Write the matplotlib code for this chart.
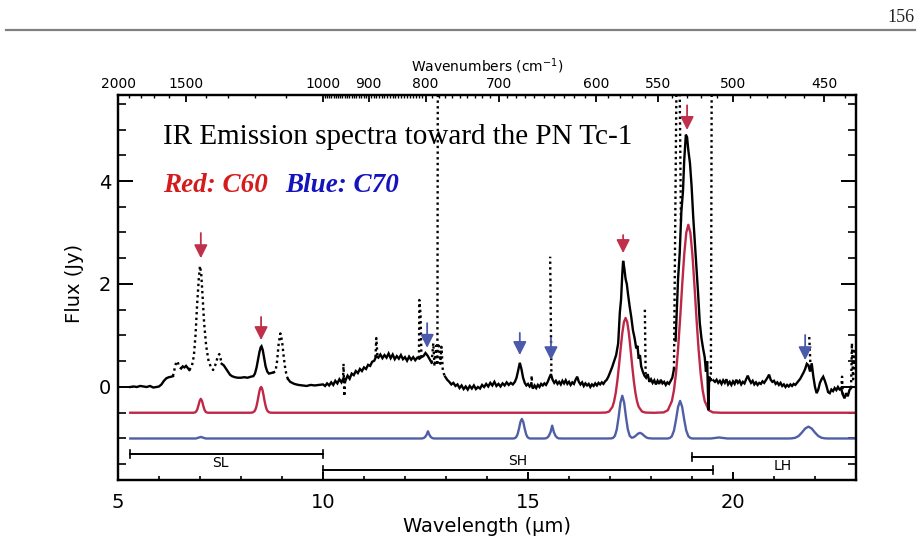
import numpy as np
import matplotlib
matplotlib.use("Agg")
import matplotlib.pyplot as plt
from matplotlib.lines import Line2D

nan = np.nan

# ---------------- observed spectrum (Tc-1) ----------------
# solid (good data) segments
seg_a_wave = [5.30, 5.38, 5.46, 5.54, 5.62, 5.70, 5.78, 5.86, 5.94, 6.00,
              6.06, 6.12, 6.18, 6.24, 6.30, 6.34]
seg_a_flux = [0.00, 0.01, 0.00, 0.02, 0.01, 0.00, 0.02, -0.01, 0.00, 0.01,
              0.05, 0.12, 0.17, 0.19, 0.20, 0.21]

seg_b_wave = [6.54, 6.58, 6.62, 6.66, 6.70, 6.74]
seg_b_flux = [0.36, 0.40, 0.38, 0.41, 0.37, 0.33]

seg_d_wave = [7.53, 7.58, 7.63, 7.68, 7.73, 7.78, 7.85, 7.92, 8.00, 8.08,
              8.16, 8.24, 8.30, 8.34, 8.38, 8.42, 8.45, 8.48, 8.50, 8.53,
              8.56, 8.60, 8.64, 8.68, 8.73, 8.78]
seg_d_flux = [0.45, 0.42, 0.36, 0.30, 0.24, 0.21, 0.19, 0.18, 0.18, 0.19,
              0.18, 0.20, 0.21, 0.26, 0.38, 0.55, 0.68, 0.77, 0.79, 0.72,
              0.58, 0.40, 0.30, 0.26, 0.27, 0.28]

seg_f_wave = [9.15, 9.20, 9.30, 9.40, 9.50, 9.60, 9.70, 9.80, 9.90, 10.00,
              10.05, 10.10, 10.15, 10.20, 10.25, 10.30, 10.35, 10.40, 10.45, 10.50,
              10.55, 10.60, 10.65, 10.70, 10.75, 10.80, 10.85, 10.90, 10.95, 11.00,
              11.05, 11.10, 11.15, 11.20, 11.25, 11.30, 11.35, 11.40, 11.45, 11.50,
              11.55, 11.60, 11.65, 11.70, 11.75, 11.80, 11.85, 11.90, 11.95, 12.00,
              12.05, 12.10, 12.15, 12.20, 12.25, 12.30, 12.35, 12.40, 12.45, 12.50,
              12.55, 12.60, 12.65]
seg_f_flux = [0.15, 0.10, 0.06, 0.04, 0.03, 0.02, 0.04, 0.03, 0.04, 0.05,
              0.02, 0.07, 0.03, 0.09, 0.04, 0.12, 0.07, 0.15, 0.09, 0.17,
              0.13, 0.22, 0.16, 0.26, 0.23, 0.31, 0.27, 0.35, 0.31, 0.38,
              0.35, 0.43, 0.41, 0.49, 0.51, 0.60, 0.57, 0.63, 0.56, 0.62,
              0.57, 0.65, 0.56, 0.63, 0.54, 0.60, 0.55, 0.62, 0.54, 0.58,
              0.51, 0.59, 0.53, 0.58, 0.52, 0.57, 0.55, 0.58, 0.60, 0.66,
              0.61, 0.54, 0.47]

seg_i_wave = [12.98, 13.03, 13.08, 13.13, 13.18, 13.23, 13.28, 13.33, 13.38, 13.43,
              13.48, 13.53, 13.58, 13.63, 13.68, 13.73, 13.78, 13.83, 13.88, 13.93,
              13.98, 14.03, 14.08, 14.13, 14.18, 14.23, 14.28, 14.33, 14.38, 14.43,
              14.48, 14.53, 14.58, 14.63, 14.68, 14.72, 14.76, 14.80, 14.84, 14.88,
              14.92, 14.96, 15.00, 15.04, 15.08, 15.12, 15.16, 15.20, 15.24, 15.28,
              15.32, 15.36, 15.40, 15.44, 15.48, 15.52, 15.56, 15.60, 15.64, 15.68,
              15.72, 15.76, 15.80, 15.84, 15.88, 15.92, 15.96, 16.00, 16.04, 16.08,
              16.12, 16.16, 16.20, 16.24, 16.28, 16.32, 16.36, 16.40, 16.44, 16.48,
              16.52, 16.56, 16.60, 16.64, 16.68, 16.72, 16.76, 16.80, 16.84, 16.88,
              16.92, 16.96, 17.00, 17.05, 17.10, 17.15, 17.20, 17.24, 17.27, 17.30,
              17.32, 17.35, 17.38, 17.41, 17.44, 17.48, 17.52, 17.56, 17.60, 17.64,
              17.67, 17.70, 17.73, 17.76, 17.80, 17.84, 17.88, 17.92, 17.96, 18.00,
              18.04, 18.08, 18.12, 18.16, 18.20, 18.24, 18.28, 18.32, 18.36, 18.40,
              18.44, 18.48, 18.52, 18.56]
seg_i_flux = [0.20, 0.14, 0.10, 0.05, 0.08, 0.02, 0.05, -0.02, 0.03, -0.04,
              0.01, -0.05, 0.02, -0.03, 0.03, -0.04, 0.00, -0.03, 0.04, 0.00,
              0.06, 0.01, 0.08, 0.03, 0.10, 0.02, 0.06, 0.01, 0.07, 0.03,
              0.09, 0.04, 0.08, 0.05, 0.10, 0.18, 0.32, 0.47, 0.35, 0.18,
              0.08, 0.03, 0.06, 0.01, 0.05, -0.03, 0.03, -0.02, 0.04, 0.00,
              0.06, 0.03, 0.07, 0.04, 0.10, 0.18, 0.25, 0.14, 0.08, 0.12,
              0.06, 0.10, 0.05, 0.12, 0.07, 0.13, 0.06, 0.10, 0.04, 0.09,
              0.06, 0.14, 0.20, 0.10, 0.05, 0.09, 0.02, 0.07, 0.03, 0.06,
              0.00, 0.05, 0.02, 0.07, 0.03, 0.08, 0.05, 0.09, 0.06, 0.11,
              0.14, 0.20, 0.28, 0.38, 0.50, 0.62, 0.85, 1.45, 1.70, 2.20,
              2.45, 2.30, 2.10, 2.00, 1.80, 1.56, 1.35, 1.10, 0.95, 0.75,
              0.80, 0.55, 0.62, 0.40, 0.30, 0.22, 0.18, 0.25, 0.10, 0.15,
              0.08, 0.13, 0.05, 0.12, 0.06, 0.14, 0.07, 0.10, 0.04, 0.09,
              0.06, 0.12, 0.18, 0.35]

seg_j_wave = [18.60, 18.63, 18.66, 18.70, 18.74, 18.78, 18.81, 18.85, 18.88, 18.91,
              18.95, 18.99, 19.03, 19.07, 19.11, 19.15, 19.19, 19.23, 19.27, 19.31,
              19.34, 19.37, 19.40, 19.42, 19.45]
seg_j_flux = [0.90, 1.50, 2.10, 2.60, 3.40, 3.80, 4.40, 4.90, 4.85, 4.60,
              4.35, 3.90, 3.30, 2.80, 2.33, 1.80, 1.24, 0.95, 0.75, 0.58,
              0.30, 0.50, -0.45, 0.20, 0.13]

seg_k_wave = [19.52, 19.56, 19.60, 19.64, 19.68, 19.72, 19.76, 19.80, 19.84, 19.88,
              19.92, 19.96, 20.00, 20.04, 20.08, 20.12, 20.16, 20.20, 20.24, 20.28,
              20.32, 20.36, 20.40, 20.44, 20.48, 20.52, 20.56, 20.60, 20.64, 20.68,
              20.72, 20.76, 20.80, 20.84, 20.88, 20.92, 20.96, 21.00, 21.04, 21.08,
              21.12, 21.16, 21.20, 21.24, 21.28, 21.32, 21.36, 21.40, 21.44, 21.48,
              21.52, 21.56, 21.60, 21.64, 21.68, 21.72, 21.76, 21.80, 21.84, 21.88,
              21.92, 21.96, 22.00, 22.04, 22.08, 22.12, 22.16, 22.20, 22.24, 22.28,
              22.32, 22.36, 22.40, 22.44, 22.48, 22.52, 22.56, 22.60, 22.64, 22.68,
              22.72, 22.76, 22.80, 22.84, 22.88]
seg_k_flux = [0.13, 0.10, 0.14, 0.08, 0.12, 0.06, 0.13, 0.08, 0.15, 0.05,
              0.10, 0.04, 0.11, 0.06, 0.14, 0.08, 0.12, 0.05, 0.10, 0.07,
              0.15, 0.22, 0.14, 0.08, 0.12, 0.05, 0.09, 0.04, 0.08, 0.06,
              0.11, 0.08, 0.13, 0.18, 0.24, 0.14, 0.10, 0.12, 0.06, 0.09,
              0.04, 0.08, 0.02, 0.05, 0.00, 0.04, 0.01, 0.05, 0.02, 0.06,
              0.04, 0.08, 0.12, 0.16, 0.22, 0.28, 0.35, 0.45, 0.42, 0.30,
              0.46, 0.20, 0.00, -0.12, -0.05, 0.08, 0.15, 0.20, 0.12, 0.02,
              -0.10, -0.12, -0.05, -0.08, -0.02, -0.06, 0.00, -0.05, -0.04, -0.15,
              -0.22, -0.12, -0.18, -0.06, -0.02]

# dotted (flagged data) segments, NaN separated
dot_wave = [6.34, 6.38, 6.42, 6.45, 6.49, 6.54, nan,
            6.74, 6.80, 6.85, 6.89, 6.93, 6.97, 7.00, 7.03, 7.06, 7.10, 7.15, 7.21,
            7.27, 7.32, 7.37, 7.42, 7.47, 7.50, 7.53, nan,
            8.78, 8.84, 8.88, 8.92, 8.96, 9.00, 9.04, 9.08, 9.12, 9.15, nan,
            10.49, 10.50, 10.52, 10.54, nan,
            11.28, 11.30, 11.33, nan,
            12.34, 12.35, 12.38, 12.40, nan,
            12.65, 12.69, 12.72, 12.76, 12.79, 12.80, nan,
            12.81, 12.83, 12.86, 12.89, 12.92, 12.95, 12.98, nan,
            15.08, 15.09, 15.10, nan,
            15.57, 15.54, nan,
            17.85, 17.87, nan,
            18.56, 18.62, nan,
            18.70, 18.73, nan,
            19.46, 19.48, nan,
            21.86, 21.89, nan,
            22.64, 22.66, 22.68, nan,
            22.88, 22.90, 22.93, 22.96, 23.00]
dot_flux = [0.21, 0.35, 0.48, 0.50, 0.40, 0.36, nan,
            0.33, 0.40, 0.60, 1.00, 1.60, 2.10, 2.35, 2.20, 1.80, 1.25, 0.80, 0.50,
            0.38, 0.33, 0.42, 0.55, 0.64, 0.56, 0.45, nan,
            0.28, 0.30, 0.50, 0.85, 1.04, 0.90, 0.60, 0.35, 0.20, 0.15, nan,
            0.12, 0.45, -0.18, 0.14, nan,
            0.58, 0.95, 0.58, nan,
            0.56, 1.69, 1.40, 0.58, nan,
            0.47, 0.85, 0.40, 0.80, 0.42, 5.80, nan,
            0.80, 0.80, 0.45, 0.78, 0.35, 0.25, 0.20, nan,
            0.05, 0.22, 0.05, nan,
            0.30, 2.53, nan,
            1.50, 0.20, nan,
            0.35, 5.80, nan,
            5.80, 3.20, nan,
            0.13, 5.80, nan,
            0.97, 0.40, nan,
            -0.04, 0.20, -0.15, nan,
            -0.02, 0.85, 0.15, 0.75, 0.30]

# ---------------- model spectra ----------------
c60_wave = [5.30, 6.84, 6.87, 6.90, 6.93, 6.96, 6.99, 7.02, 7.05, 7.08, 7.11, 7.14, 7.17, 7.20,
            8.17, 8.25, 8.29, 8.33, 8.35, 8.37, 8.39, 8.41, 8.43, 8.45, 8.47, 8.49,
            8.51, 8.53, 8.55, 8.57, 8.59, 8.61, 8.63, 8.65, 8.69, 8.73, 8.81,
            16.74, 16.90, 16.98, 17.06, 17.10, 17.14, 17.18, 17.22, 17.26, 17.30, 17.34, 17.38,
            17.42, 17.46, 17.50, 17.54, 17.58, 17.62, 17.66, 17.70, 17.78, 17.86, 18.02,
            18.11, 18.31, 18.41, 18.51, 18.56, 18.61, 18.66, 18.71, 18.76, 18.81, 18.86, 18.91,
            18.96, 19.01, 19.06, 19.11, 19.16, 19.21, 19.26, 19.31, 19.41, 19.51, 19.71, 23.00]
c60_flux = [-0.50, -0.50, -0.496, -0.483, -0.443, -0.365, -0.273, -0.23, -0.273, -0.365, -0.443, -0.483, -0.496, -0.50,
            -0.50, -0.499, -0.493, -0.469, -0.44, -0.395, -0.331, -0.25, -0.161, -0.08, -0.021, 0.00,
            -0.021, -0.08, -0.161, -0.25, -0.331, -0.395, -0.44, -0.469, -0.493, -0.499, -0.50,
            -0.50, -0.496, -0.476, -0.385, -0.280, -0.113, 0.123, 0.42, 0.746, 1.047, 1.262, 1.34,
            1.262, 1.047, 0.746, 0.42, 0.123, -0.113, -0.280, -0.385, -0.476, -0.496, -0.50,
            -0.50, -0.493, -0.452, -0.272, -0.063, 0.267, 0.736, 1.325, 1.972, 2.570, 2.995, 3.15,
            2.995, 2.570, 1.972, 1.325, 0.736, 0.267, -0.063, -0.272, -0.452, -0.493, -0.50, -0.50]

c70_wave = [5.30, 6.90, 6.96, 7.02, 7.08, 7.14,
            12.35, 12.42, 12.455, 12.49, 12.525, 12.56, 12.595, 12.63, 12.665, 12.70, 12.77,
            14.64, 14.675, 14.71, 14.745, 14.78, 14.815, 14.85, 14.885, 14.92, 14.955, 14.99, 15.025, 15.06,
            15.35, 15.43, 15.47, 15.51, 15.55, 15.59, 15.63, 15.67, 15.71, 15.75, 15.83,
            16.94, 17.03, 17.075, 17.12, 17.165, 17.21, 17.255, 17.30, 17.345, 17.39, 17.435,
            17.48, 17.53, 17.58, 17.63, 17.68, 17.73, 17.78, 17.83, 17.88, 17.93, 18.03,
            18.41, 18.46, 18.51, 18.56, 18.61, 18.66, 18.71, 18.76, 18.81, 18.86, 18.91, 18.96, 19.01,
            19.46, 19.56, 19.66, 19.76, 19.86,
            21.36, 21.44, 21.52, 21.60, 21.68, 21.76, 21.84, 21.92, 22.00, 22.08, 22.16, 22.24, 22.32, 23.00]
c70_flux = [-1.00, -1.00, -0.985, -0.97, -0.985, -1.00,
            -1.00, -0.999, -0.991, -0.971, -0.93, -0.86, -0.93, -0.971, -0.991, -0.999, -1.00,
            -1.00, -0.995, -0.976, -0.92, -0.81, -0.68, -0.62, -0.68, -0.81, -0.92, -0.976, -0.995, -1.00,
            -1.00, -0.998, -0.984, -0.947, -0.875, -0.75, -0.875, -0.947, -0.984, -0.998, -1.00,
            -1.00, -0.998, -0.989, -0.948, -0.825, -0.585, -0.302, -0.17, -0.302, -0.585, -0.825,
            -0.948, -0.985, -0.975, -0.945, -0.908, -0.89, -0.908, -0.945, -0.977, -0.993, -1.00,
            -1.00, -0.99, -0.954, -0.847, -0.635, -0.386, -0.27, -0.386, -0.635, -0.847, -0.954, -0.99, -1.00,
            -1.00, -0.99, -0.98, -0.99, -1.00,
            -1.00, -0.997, -0.986, -0.952, -0.885, -0.807, -0.77, -0.807, -0.885, -0.952, -0.986, -0.997, -1.00, -1.00]

# ---------------- band identifications (arrows) ----------------
c60_arrow_wave = [7.02, 8.49, 17.32, 18.88]
c60_arrow_top = [2.99, 1.36, 2.95, 5.47]
c60_arrow_tip = [2.50, 0.91, 2.60, 4.99]
c70_arrow_wave = [12.54, 14.80, 15.56, 21.76]
c70_arrow_top = [1.24, 1.05, 0.95, 1.01]
c70_arrow_tip = [0.76, 0.62, 0.52, 0.52]

# ---------------- Spitzer IRS modules ----------------
module_names = ["SL", "SH", "LH"]
module_start = [5.3, 10.0, 19.0]
module_end = [10.0, 19.5, 23.2]
module_level = [-1.30, -1.61, -1.36]
module_label_wave = [7.49, 14.76, 21.22]
module_label_flux = [-1.48, -1.44, -1.53]

# ---------------- axes ticks ----------------
x_major = [5, 10, 15, 20]
y_major = [0, 2, 4]
wn_major = [2000, 1500, 1000, 900, 800, 700, 600, 550, 500, 450]

# ---------------- colours ----------------
RED_LINE = "#be2846"
BLUE_LINE = "#505fa5"
RED_ARROW = "#c0304a"
BLUE_ARROW = "#4b5aaa"

fig = plt.figure(figsize=(9.21, 5.49), dpi=100)
fig.patch.set_facecolor("white")
ax = fig.add_axes([118 / 921, 1 - 480 / 549, 738 / 921, 385 / 549])
ax.set_xlim(5, 23)
ax.set_ylim(-1.806, 5.67)

nanarr = [nan]
solid_wave = (seg_a_wave + nanarr + seg_b_wave + nanarr + seg_d_wave + nanarr +
              seg_f_wave + nanarr + seg_i_wave + nanarr + seg_j_wave + nanarr + seg_k_wave)
solid_flux = (seg_a_flux + nanarr + seg_b_flux + nanarr + seg_d_flux + nanarr +
              seg_f_flux + nanarr + seg_i_flux + nanarr + seg_j_flux + nanarr + seg_k_flux)

ax.plot(c60_wave, c60_flux, color=RED_LINE, lw=1.7, zorder=2)
ax.plot(c70_wave, c70_flux, color=BLUE_LINE, lw=1.7, zorder=2)
ax.plot(solid_wave, solid_flux, color="black", lw=1.7, zorder=3, solid_joinstyle="miter")
ax.plot(dot_wave, dot_flux, color="black", lw=1.7, ls=(0, (1, 1.4)), zorder=3)

for xw, yt, yb in zip(c60_arrow_wave, c60_arrow_top, c60_arrow_tip):
    ax.annotate("", xy=(xw, yb), xytext=(xw, yt),
                arrowprops=dict(arrowstyle="-|>", color=RED_ARROW, lw=1.3,
                                mutation_scale=20, shrinkA=0, shrinkB=0), zorder=4)
for xw, yt, yb in zip(c70_arrow_wave, c70_arrow_top, c70_arrow_tip):
    ax.annotate("", xy=(xw, yb), xytext=(xw, yt),
                arrowprops=dict(arrowstyle="-|>", color=BLUE_ARROW, lw=1.3,
                                mutation_scale=20, shrinkA=0, shrinkB=0), zorder=4)

for name, x0, x1, lev, lw_, lf in zip(module_names, module_start, module_end, module_level,
                                      module_label_wave, module_label_flux):
    ax.plot([x0, x1], [lev, lev], color="black", lw=1.4, clip_on=True)
    ax.plot([x0, x0], [lev - 0.07, lev + 0.07], color="black", lw=1.2)
    if x1 < 23:
        ax.plot([x1, x1], [lev - 0.07, lev + 0.07], color="black", lw=1.2)
    ax.text(lw_, lf, name, ha="center", va="center", fontsize=10, family="DejaVu Sans")

# bottom / left axes
ax.set_xticks(x_major)
ax.set_xticklabels([str(v) for v in x_major])
ax.set_xticks(np.arange(5, 24, 1), minor=True)
ax.set_yticks(y_major)
ax.set_yticklabels([str(v) for v in y_major])
ax.set_yticks(np.arange(-1.5, 5.6, 0.5), minor=True)
ax.tick_params(axis="x", which="major", direction="in", length=5.5, width=1.4,
               labelsize=14, pad=9, top=False)
ax.tick_params(axis="x", which="minor", direction="in", length=3, width=1.2, top=False)
ax.tick_params(axis="y", which="major", direction="in", length=10.5, width=1.4,
               labelsize=14, pad=5, left=True, right=True)
ax.tick_params(axis="y", which="minor", direction="in", length=5.5, width=1.2,
               left=True, right=True)
for sp in ax.spines.values():
    sp.set_linewidth(1.6)

# top axis: wavenumbers
ax_top = ax.twiny()
ax_top.set_xlim(5, 23)
ax_top.set_xticks([10000.0 / k for k in wn_major])
ax_top.set_xticklabels([str(k) for k in wn_major])
wn_minor = (list(range(1900, 1500, -100)) + list(range(1400, 1000, -100)) +
            list(range(995, 800, -5)) + list(range(790, 430, -10)))
ax_top.set_xticks([10000.0 / k for k in wn_minor if k not in wn_major], minor=True)
ax_top.tick_params(axis="x", which="major", direction="in", length=5, width=1.3,
                   labelsize=10, pad=3)
ax_top.tick_params(axis="x", which="minor", direction="in", length=2.5, width=1.0)
ax_top.set_xlabel("Wavenumbers (cm$^{-1}$)", fontsize=10, labelpad=4)
for sp in ax_top.spines.values():
    sp.set_linewidth(1.6)

# axis labels
fig.text(74 / 921, 1 - 283 / 549, "Flux (Jy)", rotation=90, ha="center", va="center",
         fontsize=14, family="DejaVu Sans")
fig.text(487 / 921, 1 - 527 / 549, "Wavelength (\u03bcm)", ha="center", va="center",
         fontsize=14, family="DejaVu Sans")

# titles inside the plot
fig.text(163 / 921, 1 - 144 / 549, "IR Emission spectra toward the PN Tc-1",
         ha="left", va="baseline", fontsize=21, family="Liberation Serif", color="black")
fig.text(163 / 921, 1 - 192 / 549, "Red: C60", ha="left", va="baseline", fontsize=19.5,
         family="Liberation Serif", weight="bold", style="italic", color="#d41c1c")
fig.text(285 / 921, 1 - 192 / 549, "Blue: C70", ha="left", va="baseline", fontsize=19.5,
         family="Liberation Serif", weight="bold", style="italic", color="#1414be")

# page header
fig.text(915 / 921, 1 - 18 / 549, "156", ha="right", va="center", fontsize=13,
         family="Liberation Serif", color="#222222")
fig.add_artist(Line2D([6 / 921, 915 / 921], [1 - 30 / 549, 1 - 30 / 549],
                      color="#808080", lw=1.6))

fig.savefig("out.png", dpi=100, facecolor="white")
